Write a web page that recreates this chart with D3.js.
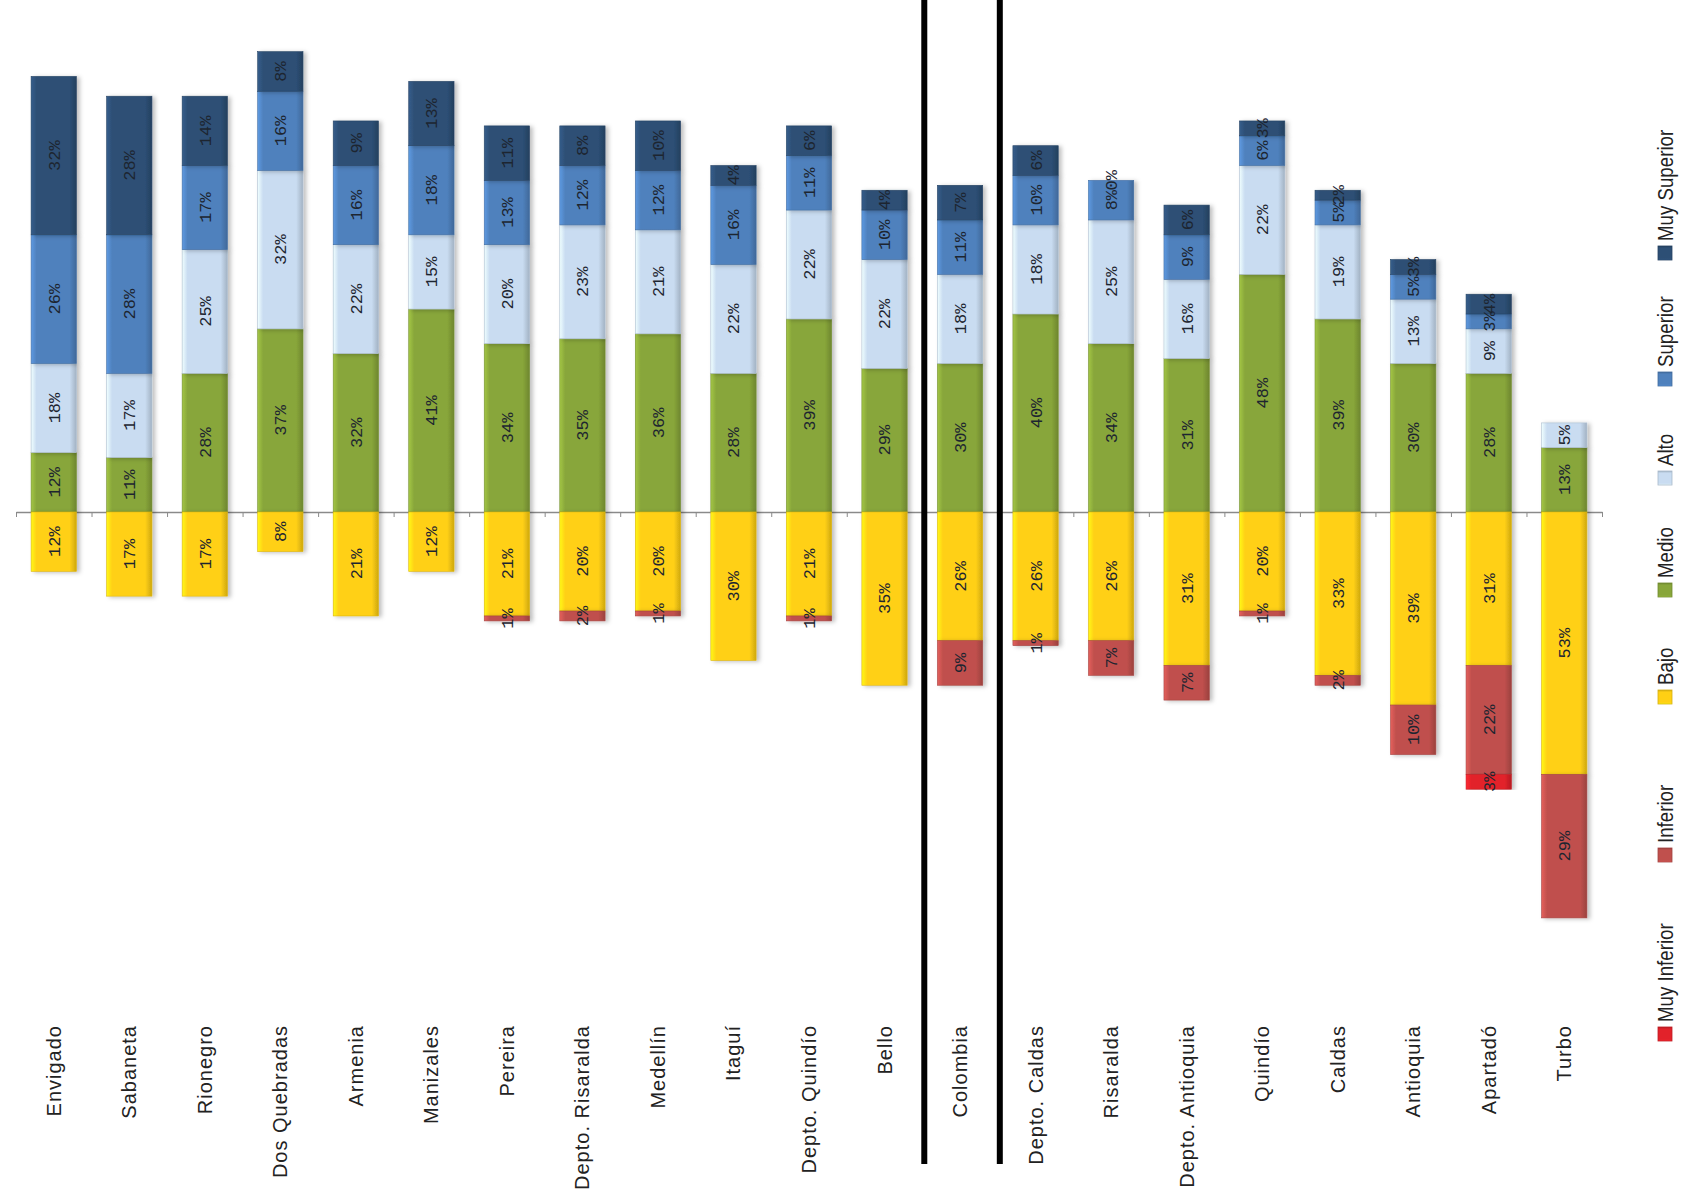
<!DOCTYPE html>
<html>
<head>
<meta charset="utf-8">
<script src="https://cdn.jsdelivr.net/npm/d3@7"></script>
<style>
  html, body { margin: 0; padding: 0; background: #ffffff; }
  svg { display: block; }
</style>
</head>
<body>
<script>
// ---------- DATA ----------
const categories = ["Envigado","Sabaneta","Rionegro","Dos Quebradas","Armenia","Manizales","Pereira",
  "Depto. Risaralda","Medellín","Itaguí","Depto. Quindío","Bello","Colombia","Depto. Caldas",
  "Risaralda","Depto. Antioquia","Quindío","Caldas","Antioquia","Apartadó","Turbo"];

const muyInferior = [null,null,null,null,null,null,null,null,null,null,null,null,null,null,null,null,null,null,null,3,null];
const inferior    = [null,null,null,null,null,null,1,2,1,null,1,null,9,1,7,7,1,2,10,22,29];
const bajo        = [12,17,17,8,21,12,21,20,20,30,21,35,26,26,26,31,20,33,39,31,53];
const medio       = [12,11,28,37,32,41,34,35,36,28,39,29,30,40,34,31,48,39,30,28,13];
const alto        = [18,17,25,32,22,15,20,23,21,22,22,22,18,18,25,16,22,19,13,9,5];
const superior    = [26,28,17,16,16,18,13,12,12,16,11,10,11,10,8,9,6,5,5,3,null];
const muySuperior = [32,28,14,8,9,13,11,8,10,4,6,4,7,6,0,6,3,2,3,4,null];

const seriesNames = ["Muy Inferior","Inferior","Bajo","Medio","Alto","Superior","Muy Superior"];
const seriesColors = ["#e2222a","#c0504d","#ffd014","#88a63a","#c9dcf1","#4f81bd","#2d4f75"];

// ---------- LAYOUT ----------
const W = 1682, H = 1193;
const svg = d3.select("body").append("svg").attr("width", W).attr("height", H);
const defs = svg.append("defs");

const seriesArrays = {
  "Muy Inferior": muyInferior, "Inferior": inferior, "Bajo": bajo, "Medio": medio,
  "Alto": alto, "Superior": superior, "Muy Superior": muySuperior
};

// gradients (bevel look)
seriesNames.forEach((s, i) => {
  const c = seriesColors[i];
  const g = defs.append("linearGradient").attr("id", "g" + i)
    .attr("x1", 0).attr("x2", 1).attr("y1", 0).attr("y2", 0);
  g.append("stop").attr("offset", 0).attr("stop-color", d3.color(c).brighter(0.5));
  g.append("stop").attr("offset", 0.12).attr("stop-color", c);
  g.append("stop").attr("offset", 0.85).attr("stop-color", c);
  g.append("stop").attr("offset", 1).attr("stop-color", d3.color(c).darker(0.6));
});
const shadow = defs.append("filter").attr("id", "shadow")
  .attr("x", "-20%").attr("y", "-5%").attr("width", "150%").attr("height", "110%");
shadow.append("feDropShadow").attr("dx", 3).attr("dy", 1).attr("stdDeviation", 2)
  .attr("flood-color", "#000").attr("flood-opacity", 0.25);
const lineBlur = defs.append("filter").attr("id", "lblur")
  .attr("x", "-200%").attr("width", "500%");
lineBlur.append("feGaussianBlur").attr("stdDeviation", 3);

const x = d3.scaleBand().domain(categories).range([16, 1602]).paddingInner(0.4).paddingOuter(0.2);
const y = d3.scaleLinear().domain([-100, 100]).range([1007, 17]);

// rows for stacking (negatives below zero)
const negSeries = new Set(["Muy Inferior","Inferior","Bajo"]);
const rows = categories.map((c, i) => {
  const r = { cat: c };
  seriesNames.forEach(s => {
    const v = seriesArrays[s][i];
    const val = v == null ? 0 : v;
    r[s] = negSeries.has(s) ? -val : val;
  });
  return r;
});
const stackKeys = ["Medio","Alto","Superior","Muy Superior","Bajo","Inferior","Muy Inferior"];
const stacked = d3.stack().keys(stackKeys).offset(d3.stackOffsetDiverging)(rows);
const posTop = categories.map((c, i) => d3.max(stacked, l => negSeries.has(l.key) ? 0 : Math.max(l[i][0], l[i][1])));

// ---------- AXIS LINE ----------
const xb = d3.scaleLinear().domain([0, categories.length]).range([16, 1602]);
const axisG = svg.append("g").attr("transform", `translate(0,${y(0)})`)
  .call(d3.axisBottom(xb).tickValues(d3.range(0, categories.length + 1)).tickSize(5).tickSizeOuter(0).tickFormat(""));
axisG.select(".domain").attr("stroke", "#8a8a8a").attr("stroke-width", 1.5);
axisG.selectAll(".tick line").attr("stroke", "#8a8a8a");

// ---------- BARS ----------
const barsG = svg.append("g");
stacked.forEach(layer => {
  const key = layer.key;
  const si = seriesNames.indexOf(key);
  const arr = seriesArrays[key];
  const g = barsG.append("g").attr("filter", "url(#shadow)");
  g.selectAll("rect").data(layer.filter((d, i) => arr[i] != null && arr[i] > 0))
    .join("rect")
    .attr("x", d => x(d.data.cat))
    .attr("width", x.bandwidth())
    .attr("y", d => y(Math.max(d[0], d[1])))
    .attr("height", d => Math.abs(y(d[0]) - y(d[1])))
    .attr("fill", `url(#g${si})`)
    .attr("stroke", d3.color(seriesColors[si]).darker(0.4))
    .attr("stroke-width", 0.6);
});

// ---------- DATA LABELS ----------
const labG = svg.append("g");
stacked.forEach(layer => {
  const key = layer.key;
  const arr = seriesArrays[key];
  layer.forEach((d, i) => {
    if (arr[i] == null) return;
    const cx = x(d.data.cat) + x.bandwidth() / 2;
    const cy = arr[i] === 0 ? y(posTop[i]) : y((d[0] + d[1]) / 2);
    labG.append("text")
      .attr("transform", `translate(${cx},${cy}) rotate(-90)`)
      .attr("text-anchor", "middle")
      .attr("dy", "0.35em")
      .attr("font-family", "'Liberation Mono','DejaVu Sans Mono',monospace")
      .attr("font-size", 17)
      .attr("fill", "#1d2530")
      .text(arr[i] + "%");
  });
});

// ---------- SEPARATOR LINES ----------
[12, 13].forEach(b => {
  const xx = xb(b) + 2;
  svg.append("line").attr("x1", xx + 4).attr("x2", xx + 4).attr("y1", 0).attr("y2", 1164)
    .attr("stroke", "#999").attr("stroke-width", 5).attr("filter", "url(#lblur)");
  svg.append("line").attr("x1", xx).attr("x2", xx).attr("y1", 0).attr("y2", 1164)
    .attr("stroke", "#000").attr("stroke-width", 6);
});

// ---------- CATEGORY LABELS ----------
const catAxis = svg.append("g").attr("transform", "translate(0,1025)")
  .call(d3.axisBottom(x).tickSize(0));
catAxis.select(".domain").remove();
catAxis.selectAll("text")
  .attr("x", 0).attr("y", 0).attr("dy", "0.35em")
  .attr("transform", "rotate(-90)")
  .style("text-anchor", "end")
  .attr("font-family", "'Liberation Sans',Arial,sans-serif")
  .attr("font-size", 20)
  .attr("letter-spacing", 1)
  .attr("fill", "#222");

// ---------- LEGEND ----------
const legendY = [1034, 855, 697, 590, 478, 379, 253]; // square centres (screen y)
const legendX = 1665;
const leg = svg.append("g");
seriesNames.forEach((s, i) => {
  const g = leg.append("g").attr("transform", `translate(${legendX},${legendY[i]}) rotate(-90)`);
  g.append("rect").attr("x", -7).attr("y", -7).attr("width", 14).attr("height", 14)
    .attr("fill", `url(#g${i})`).attr("stroke", d3.color(seriesColors[i]).darker(0.5)).attr("stroke-width", 0.8);
  g.append("text").attr("transform", "translate(12,0) scale(0.85,1)").attr("dy", "0.36em")
    .attr("font-family", "'Liberation Sans',Arial,sans-serif")
    .attr("font-size", 22)
    .attr("fill", "#222")
    .text(s);
});
</script>
</body>
</html>
